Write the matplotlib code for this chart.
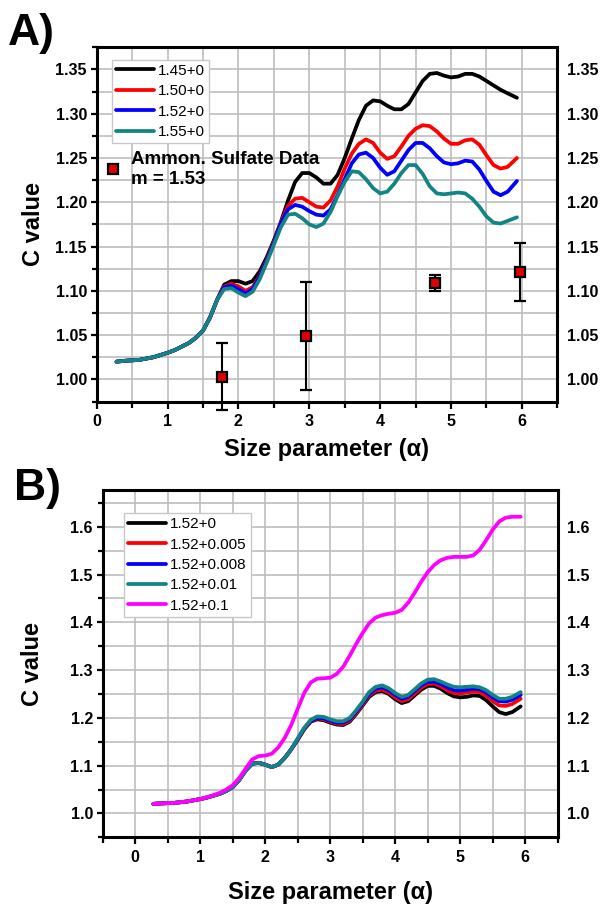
import numpy as np
import matplotlib
matplotlib.use('Agg')
import matplotlib.pyplot as plt
from matplotlib.ticker import MultipleLocator, FormatStrFormatter

plt.rcParams['font.family'] = ['Liberation Sans', 'DejaVu Sans']

# --- данные ---
size_x = [0.28, 0.4, 0.6, 0.8, 1.0, 1.1, 1.2, 1.3, 1.4, 1.5, 1.6, 1.7,
          1.8, 1.9, 2.0, 2.1, 2.2, 2.3, 2.4, 2.5, 2.6, 2.7, 2.8, 2.9,
          3.0, 3.1, 3.2, 3.3, 3.4, 3.5, 3.6, 3.7, 3.8, 3.9, 4.0, 4.1,
          4.2, 4.3, 4.4, 4.5, 4.6, 4.7, 4.8, 4.9, 5.0, 5.1, 5.2, 5.3,
          5.4, 5.5, 5.6, 5.7, 5.8, 5.93]

c_low = [1.020, 1.021, 1.022, 1.025, 1.030, 1.033, 1.037, 1.041, 1.047, 1.055, 1.070, 1.090]

c_145 = c_low + [1.107, 1.111, 1.111, 1.108, 1.111, 1.122, 1.138, 1.157, 1.178, 1.202, 1.223, 1.233,
                 1.233, 1.228, 1.221, 1.221, 1.231, 1.250, 1.272, 1.293, 1.309, 1.315, 1.314, 1.309,
                 1.305, 1.305, 1.311, 1.324, 1.337, 1.345, 1.346, 1.343, 1.341, 1.342, 1.345, 1.345,
                 1.342, 1.337, 1.332, 1.327, 1.323, 1.318]
c_150 = c_low + [1.105, 1.108, 1.105, 1.100, 1.104, 1.117, 1.135, 1.155, 1.177, 1.196, 1.204, 1.205,
                 1.200, 1.195, 1.194, 1.202, 1.218, 1.238, 1.255, 1.266, 1.271, 1.267, 1.256, 1.249,
                 1.252, 1.263, 1.275, 1.283, 1.287, 1.286, 1.280, 1.272, 1.266, 1.266, 1.270, 1.271,
                 1.265, 1.253, 1.242, 1.238, 1.240, 1.250]
c_152 = c_low + [1.104, 1.106, 1.102, 1.097, 1.102, 1.116, 1.134, 1.154, 1.176, 1.192, 1.197, 1.195,
                 1.190, 1.186, 1.185, 1.192, 1.208, 1.226, 1.244, 1.254, 1.256, 1.250, 1.239, 1.231,
                 1.235, 1.247, 1.259, 1.267, 1.267, 1.261, 1.252, 1.245, 1.243, 1.244, 1.247, 1.246,
                 1.237, 1.224, 1.212, 1.208, 1.212, 1.224]
c_155 = c_low + [1.102, 1.103, 1.098, 1.094, 1.099, 1.113, 1.132, 1.152, 1.172, 1.186, 1.187, 1.182,
                 1.175, 1.172, 1.176, 1.189, 1.207, 1.223, 1.235, 1.234, 1.226, 1.216, 1.210, 1.212,
                 1.221, 1.233, 1.242, 1.242, 1.232, 1.218, 1.210, 1.209, 1.210, 1.211, 1.210, 1.204,
                 1.195, 1.184, 1.177, 1.176, 1.179, 1.183]

# измерения (сульфат аммония)
meas_x = [1.77, 2.95, 4.77, 5.97]
meas_c = [1.003, 1.049, 1.109, 1.121]
meas_err = [0.038, 0.061, 0.009, 0.033]

# панель B: m = 1.52 + k
b_low = c_152[:19]
c_k0005 = b_low + [1.155, 1.177, 1.193, 1.199, 1.197, 1.192, 1.188, 1.187, 1.194, 1.210, 1.228, 1.247,
                   1.257, 1.259, 1.253, 1.243, 1.235, 1.239, 1.251, 1.263, 1.271, 1.272, 1.266, 1.258,
                   1.252, 1.251, 1.253, 1.255, 1.254, 1.246, 1.235, 1.226, 1.225, 1.229, 1.240]
c_k0008 = b_low + [1.156, 1.178, 1.194, 1.200, 1.199, 1.194, 1.190, 1.190, 1.197, 1.213, 1.231, 1.250,
                   1.261, 1.264, 1.258, 1.248, 1.240, 1.244, 1.256, 1.268, 1.275, 1.276, 1.271, 1.264,
                   1.258, 1.257, 1.259, 1.261, 1.260, 1.253, 1.243, 1.235, 1.234, 1.238, 1.248]
c_k001 = b_low + [1.157, 1.179, 1.196, 1.203, 1.202, 1.197, 1.193, 1.193, 1.200, 1.216, 1.234, 1.254,
                  1.265, 1.268, 1.262, 1.252, 1.244, 1.248, 1.260, 1.272, 1.280, 1.281, 1.276, 1.270,
                  1.265, 1.264, 1.265, 1.266, 1.264, 1.258, 1.248, 1.240, 1.240, 1.244, 1.254]
c_k01 = [1.020, 1.021, 1.022, 1.025, 1.030, 1.034, 1.038, 1.043, 1.050, 1.059, 1.074, 1.094,
         1.113, 1.120, 1.121, 1.125, 1.138, 1.158, 1.185, 1.219, 1.252, 1.274, 1.282, 1.283,
         1.284, 1.292, 1.307, 1.330, 1.355, 1.378, 1.398, 1.410, 1.415, 1.418, 1.420, 1.426,
         1.441, 1.462, 1.485, 1.505, 1.520, 1.530, 1.535, 1.537, 1.537, 1.537, 1.540, 1.552,
         1.572, 1.594, 1.611, 1.619, 1.621, 1.621]

labels_a = ['1.45+0', '1.50+0', '1.52+0', '1.55+0']
labels_b = ['1.52+0', '1.52+0.005', '1.52+0.008', '1.52+0.01', '1.52+0.1']
colors_a = ['black', 'red', 'blue', '#138484']
colors_b = ['black', 'red', 'blue', '#138484', '#ff00ff']

W, H = 601, 910


def px_box(left, top, right, bottom):
    """Прямоугольник осей из пикселей картинки в доли фигуры."""
    return [left / W, 1 - bottom / H, (right - left) / W, (bottom - top) / H]


def style_axes(ax, ystep, yminor, yfmt, ylab_x, xlab_y):
    """Рамка, сетка и подписи осей в стиле Origin."""
    ax.xaxis.set_major_locator(MultipleLocator(1))
    ax.xaxis.set_minor_locator(MultipleLocator(0.5))
    ax.yaxis.set_major_locator(MultipleLocator(ystep))
    ax.yaxis.set_minor_locator(MultipleLocator(yminor))
    ax.yaxis.set_major_formatter(FormatStrFormatter(yfmt))
    ax.grid(True, which='both', color='#bdbdbd', linewidth=1.2)
    ax.set_axisbelow(True)
    for sp in ax.spines.values():
        sp.set_linewidth(2.2)
    ax.tick_params(which='both', direction='out', width=1.6, top=False, right=False,
                   labelright=True, labelsize=11.5)
    ax.tick_params(axis='y', which='major', length=4.5, pad=2.5)
    ax.tick_params(axis='y', which='minor', length=3.5)
    ax.tick_params(axis='x', which='major', length=5, pad=4)
    ax.tick_params(axis='x', which='minor', length=4)
    for lab in ax.get_xticklabels() + ax.get_yticklabels():
        lab.set_fontweight('bold')
    for lab in ax.yaxis.get_ticklabels(which='both'):
        lab.set_fontweight('bold')
    for t in ax.yaxis.get_major_ticks():
        t.label2.set_fontweight('bold')
    ax.set_xlabel('Size parameter (α)', fontsize=17, fontweight='bold')
    ax.set_ylabel('C value', fontsize=17, fontweight='bold')
    ax.yaxis.set_label_coords(ylab_x, 0.5)
    ax.xaxis.set_label_coords(0.5, xlab_y)


fig = plt.figure(figsize=(W / 100, H / 100), dpi=100)

# --- панель A ---
ax1 = fig.add_axes(px_box(96.7, 47.3, 557.3, 401.5))
lines = []
for cv, col, lab in zip([c_145, c_150, c_152, c_155], colors_a, labels_a):
    ln, = ax1.plot(size_x, cv, color=col, lw=2.7, label=lab, solid_capstyle='round')
    lines.append(ln)
pts = ax1.errorbar(meas_x, meas_c, yerr=meas_err, fmt='s', ms=6.5, mfc='#e00000', mec='black',
                   mew=1.6, ecolor='black', elinewidth=1.5, capsize=4, capthick=1.5, zorder=5)
for art in pts.lines[1] + pts.lines[2]:
    art.set_clip_on(False)
ax1.set_xlim(0, 6.5)
ax1.set_ylim(0.975, 1.375)
style_axes(ax1, 0.05, 0.025, '%.2f', -0.112, -0.102)

leg1 = ax1.legend(handles=lines, loc='upper left', bbox_to_anchor=(111.7 / W, 1 - 60 / H),
                  bbox_transform=fig.transFigure, borderaxespad=0, fontsize=11,
                  handlelength=2.5, handletextpad=0.3, labelspacing=0.42, borderpad=0.25,
                  fancybox=False, edgecolor='#c8c8c8', framealpha=1)
leg1.get_frame().set_linewidth(1.0)
ax1.add_artist(leg1)
ax1.legend(handles=[pts.lines[0]], labels=['Ammon. Sulfate Data\nm = 1.53'], loc='upper left',
           bbox_to_anchor=(103.7 / W, 1 - 151 / H), bbox_transform=fig.transFigure,
           borderaxespad=0, borderpad=0, frameon=False, handlelength=1, handletextpad=0.45,
           prop={'size': 13.5, 'weight': 'bold'})

# --- панель B ---
ax2 = fig.add_axes(px_box(102.7, 490, 557.7, 837.3))
lines_b = []
for cv, col, lab in zip([c_152, c_k0005, c_k0008, c_k001, c_k01], colors_b, labels_b):
    ln, = ax2.plot(size_x, cv, color=col, lw=2.7, label=lab, solid_capstyle='round')
    lines_b.append(ln)
ax2.set_xlim(-0.5, 6.5)
ax2.set_ylim(0.95, 1.677)
style_axes(ax2, 0.1, 0.05, '%.1f', -0.128, -0.125)
leg2 = ax2.legend(handles=lines_b, loc='upper left', bbox_to_anchor=(124.3 / W, 1 - 513.3 / H),
                  bbox_transform=fig.transFigure, borderaxespad=0, fontsize=11,
                  handlelength=2.5, handletextpad=0.25, labelspacing=0.42, borderpad=0.25,
                  fancybox=False, edgecolor='#c8c8c8', framealpha=1)
leg2.get_frame().set_linewidth(1.0)

fig.text(8 / W, 1 - 45 / H, 'A)', fontsize=32, fontweight='bold', va='baseline')
fig.text(14 / W, 1 - 500 / H, 'B)', fontsize=32, fontweight='bold', va='baseline')

fig.savefig('out.png', dpi=100)
